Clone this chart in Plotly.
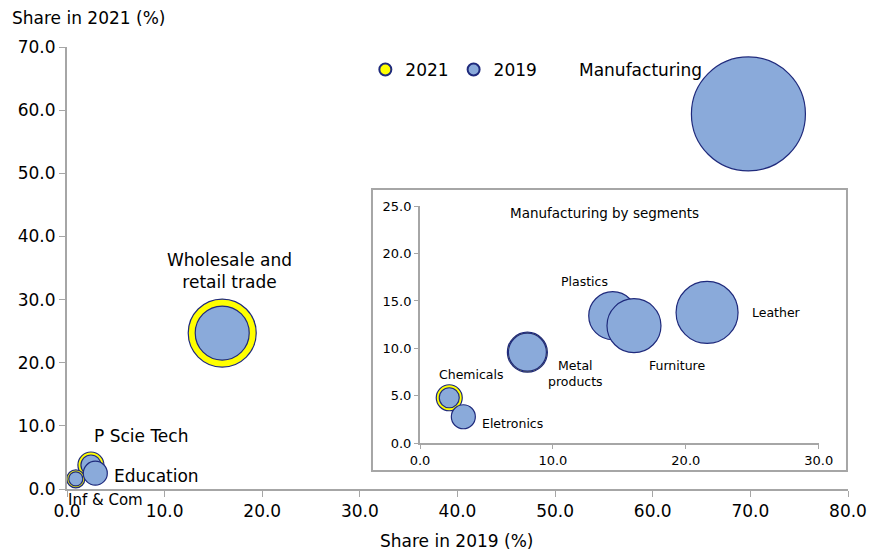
import plotly.graph_objects as go

# main chart: sectors (x = share in 2019, y = share in 2021)
sectors = ["Manufacturing", "Wholesale and<br>retail trade", "P Scie Tech", "Education", "Inf & Com"]
share_2019 = [69.8, 15.9, 2.45, 2.9, 0.9]
share_2021 = [59.4, 24.7, 3.8, 2.5, 1.6]
bubble_2019 = [114, 54, 20, 24, 14]
bubble_2021 = [100, 68, 26, 20, 18]

# inset: manufacturing segments
segments = ["Chemicals", "Eletronics", "Metal<br>products", "Plastics", "Furniture", "Leather"]
seg_2019 = [2.2, 3.26, 8.08, 14.5, 16.1, 21.6]
seg_2021 = [4.8, 2.8, 9.6, 13.45, 12.4, 13.8]
seg_bubble_2019 = [20, 24, 38, 48, 54, 62]
seg_bubble_2021 = [26, 20, 40, 44, 50, 56]

BLUE = "#8AAADA"
NAVY = "#1F2A7C"
YELLOW = "#FFFF00"
GREY = "#A6A6A6"
FONT = "DejaVu Sans"

fig = go.Figure()

# 2021 bubbles drawn first so the 2019 ones sit on top
fig.add_trace(go.Scatter(
    x=share_2019, y=share_2021, mode="markers", name="2021",
    marker=dict(size=bubble_2021, sizemode="diameter", color=YELLOW,
                line=dict(color=NAVY, width=1.2), opacity=1),
    cliponaxis=False,
))
fig.add_trace(go.Scatter(
    x=share_2019, y=share_2021, mode="markers", name="2019",
    marker=dict(size=bubble_2019, sizemode="diameter", color=BLUE,
                line=dict(color=NAVY, width=1.2), opacity=1),
    cliponaxis=False,
))
fig.add_trace(go.Scatter(
    x=seg_2019, y=seg_2021, mode="markers", showlegend=False,
    xaxis="x2", yaxis="y2",
    marker=dict(size=seg_bubble_2021, sizemode="diameter", color=YELLOW,
                line=dict(color=NAVY, width=1.2), opacity=1),
))
fig.add_trace(go.Scatter(
    x=seg_2019, y=seg_2021, mode="markers", showlegend=False,
    xaxis="x2", yaxis="y2",
    marker=dict(size=seg_bubble_2019, sizemode="diameter", color=BLUE,
                line=dict(color=NAVY, width=1.2), opacity=1),
))

# labels (last one sits just under the x axis, so it is shifted in pixels)
main_lbl_pos = [(58.7, 66.4, 0, 17), (16.6, 34.5, 0, 17), (7.6, 8.4, 0, 17),
                (9.2, 2.1, 0, 17), (3.9, 0, -11, 15)]
for name, (lx, ly, dy, fs) in zip(sectors, main_lbl_pos):
    fig.add_annotation(x=lx, y=ly, yshift=dy, text=name, showarrow=False,
                       font=dict(size=fs, color="black"))

seg_lbl_pos = [(3.84, 7.2), (6.97, 2.1), (11.7, 7.4), (12.4, 17.1), (19.3, 8.2), (26.8, 13.8)]
for name, (lx, ly) in zip(segments, seg_lbl_pos):
    fig.add_annotation(x=lx, y=ly, xref="x2", yref="y2", text=name, showarrow=False,
                       font=dict(size=12.5, color="black"))
fig.add_annotation(x=13.9, y=24.3, xref="x2", yref="y2", text="Manufacturing by segments",
                   showarrow=False, font=dict(size=13.5, color="black"))

# axis titles
fig.add_annotation(x=-0.073, y=1.0656, xref="paper", yref="paper", text="Share in 2021 (%)",
                   showarrow=False, xanchor="left", yanchor="middle",
                   font=dict(size=17, color="black"))
fig.add_annotation(x=0.4987, y=-0.118, xref="paper", yref="paper", text="Share in 2019 (%)",
                   showarrow=False, xanchor="center", yanchor="middle",
                   font=dict(size=17, color="black"))

# inset frame
fig.add_shape(type="rect", xref="paper", yref="paper",
              x0=0.3905, x1=0.9987, y0=0.0407, y1=0.6787,
              line=dict(color=GREY, width=2), fillcolor="rgba(0,0,0,0)", layer="below")

axis_common = dict(showgrid=False, zeroline=False, showline=True, linecolor=GREY,
                   linewidth=2, ticks="outside", tickcolor=GREY, tickformat=".1f",
                   automargin=False)

fig.update_layout(
    width=871, height=552,
    margin=dict(l=67, r=23, t=47, b=63),
    paper_bgcolor="white", plot_bgcolor="rgba(0,0,0,0)",
    font=dict(family=FONT, color="black"),
    xaxis=dict(range=[0, 80], dtick=10, ticklen=6, tickfont=dict(size=17), **axis_common),
    yaxis=dict(range=[0, 70], dtick=10, ticklen=6, tickfont=dict(size=17), **axis_common),
    xaxis2=dict(range=[0, 30], dtick=10, ticklen=4, tickfont=dict(size=13),
                domain=[0.452, 0.9625], anchor="y2", **axis_common),
    yaxis2=dict(range=[0, 25], dtick=5, ticklen=4, tickfont=dict(size=13),
                domain=[0.1034, 0.640], anchor="x2", **axis_common),
    legend=dict(orientation="h", x=0.382, y=0.948, xanchor="left", yanchor="middle",
                itemsizing="constant", itemwidth=30, font=dict(size=17),
                bgcolor="rgba(0,0,0,0)", tracegroupgap=0),
    showlegend=True,
)

# drop the default page margin so the figure fills the window
fig.write_html("out.html", config={"displayModeBar": False},
               post_script="document.body.style.margin = '0';")
